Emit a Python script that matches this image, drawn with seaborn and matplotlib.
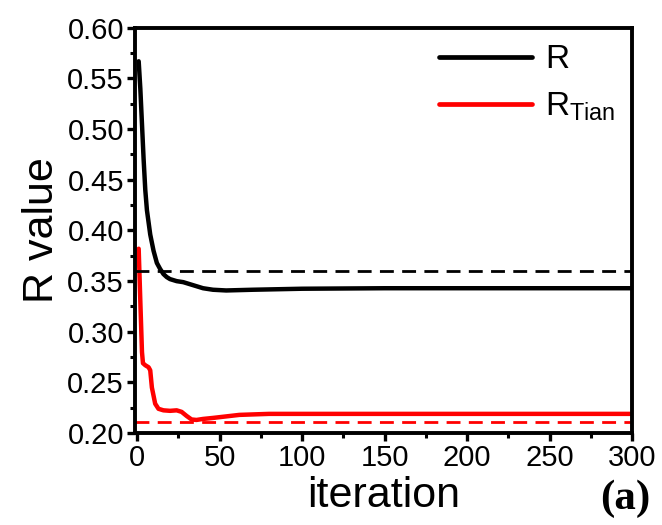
import numpy as np
import pandas as pd
import seaborn as sns
import matplotlib
matplotlib.use("Agg")
import matplotlib.pyplot as plt
from matplotlib.ticker import MultipleLocator

# Values
r_iter = [1, 2, 3, 4, 5, 6, 8, 10, 12, 14, 16, 18, 20, 24, 28, 32, 36, 40, 46, 54, 70, 100, 150, 200, 250, 300]
r_value = [0.567, 0.540, 0.505, 0.470, 0.440, 0.420, 0.396, 0.380, 0.368, 0.362, 0.357, 0.354, 0.352, 0.350,
           0.349, 0.347, 0.345, 0.343, 0.3415, 0.3408, 0.3415, 0.3425, 0.343, 0.343, 0.343, 0.343]

tian_iter = [1, 2, 3, 3.6, 5, 7, 8, 9, 11, 13, 16, 20, 24, 27, 30, 33, 36, 40, 46, 54, 62, 80, 100, 150, 200, 250, 300]
tian_value = [0.382, 0.330, 0.280, 0.269, 0.267, 0.265, 0.262, 0.245, 0.229, 0.224, 0.2225, 0.222, 0.2225, 0.221,
              0.217, 0.2135, 0.213, 0.214, 0.215, 0.2165, 0.218, 0.219, 0.219, 0.219, 0.219, 0.219, 0.219]

r_ref = 0.360
tian_ref = 0.211

sns.set_style("ticks", {'axes.edgecolor': 'black', 'xtick.color': 'black', 'ytick.color': 'black',
                        'text.color': 'black', 'axes.labelcolor': 'black'})
plt.rcParams['font.family'] = ['Liberation Sans', 'DejaVu Sans']
plt.rcParams['mathtext.default'] = 'regular'

df = pd.concat([
    pd.DataFrame({'iteration': r_iter, 'value': r_value, 'series': 'R'}),
    pd.DataFrame({'iteration': tian_iter, 'value': tian_value, 'series': 'R$_{Tian}$'}),
])

fig = plt.figure(figsize=(6.62, 5.25), dpi=100)
ax = fig.add_axes([0.204, 0.175, 0.751, 0.772])

sns.lineplot(data=df, x='iteration', y='value', hue='series', palette=['black', '#ff0000'],
             estimator=None, sort=False, linewidth=3.2, ax=ax)

# reference levels
ax.axhline(r_ref, color='black', linestyle=(0, (5, 3)), linewidth=2.0)
ax.axhline(tian_ref, color='#ff0000', linestyle=(0, (5, 3)), linewidth=2.0)

ax.set_xlim(-1.2, 300)
ax.set_ylim(0.20, 0.60)
ax.xaxis.set_major_locator(MultipleLocator(50))
ax.xaxis.set_minor_locator(MultipleLocator(25))
ax.yaxis.set_major_locator(MultipleLocator(0.05))
ax.yaxis.set_minor_locator(MultipleLocator(0.025))
ax.yaxis.set_major_formatter(matplotlib.ticker.FormatStrFormatter('%.2f'))

for s in ax.spines.values():
    s.set_linewidth(2.8)
    s.set_visible(True)
    s.set_color('black')
ax.tick_params(which='major', length=6, width=2.4, labelsize=21, pad=2, colors='black')
ax.tick_params(which='minor', length=3.5, width=2.2, colors='black')

ax.set_xlabel('iteration', fontsize=31, labelpad=3)
ax.set_ylabel('R value', fontsize=31, labelpad=4)

leg = ax.legend(loc='upper right', frameon=False, fontsize=24, handlelength=2.8,
                labelspacing=0.45, borderaxespad=0.1, handletextpad=0.4)
for line in leg.get_lines():
    line.set_linewidth(3.4)

fig.text(0.944, 0.05, '(a)', fontsize=31, fontweight='bold', family='Liberation Serif',
         ha='center', va='center')

fig.savefig('out.png', dpi=100)
